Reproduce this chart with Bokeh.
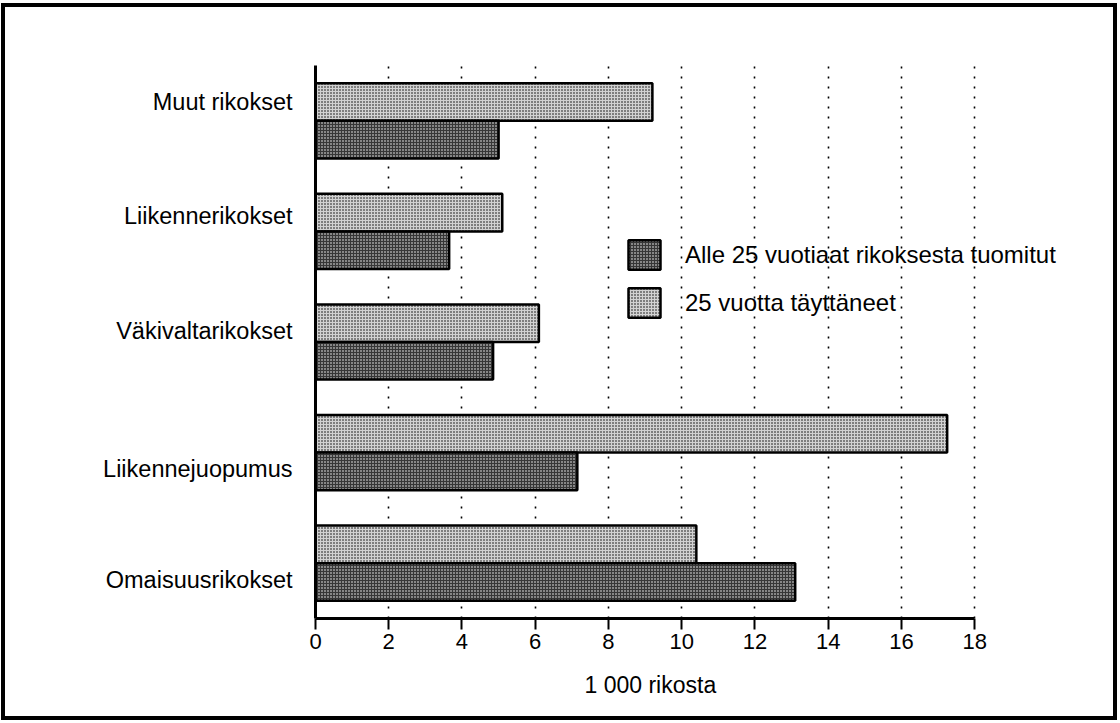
from bokeh.plotting import figure
from bokeh.models import (ColumnDataSource, Range1d, FixedTicker, Legend, LegendItem, Title)
from bokeh.transform import dodge
from bokeh.embed import file_html
from bokeh.resources import INLINE

# ---- data (top to bottom as drawn) ----
categories = ["Muut rikokset", "Liikennerikokset", "Väkivaltarikokset",
              "Liikennejuopumus", "Omaisuusrikokset"]
under25 = [5.0, 3.65, 4.85, 7.15, 13.1]      # Alle 25 vuotiaat rikoksesta tuomitut
over25 = [9.2, 5.1, 6.1, 17.25, 10.4]        # 25 vuotta täyttäneet
x_ticks = [0, 2, 4, 6, 8, 10, 12, 14, 16, 18]
series_labels = ["Alle 25 vuotiaat rikoksesta tuomitut", "25 vuotta täyttäneet"]
x_title = "1 000 rikosta"

# category label vertical shift (layout only)
label_shift = [0.17, 0.14, 0.10, -0.145, -0.155]

n = len(categories)
pos = [float(n - 1 - i) for i in range(n)]
src = ColumnDataSource(dict(y=pos, young=under25, old=over25))

FONT = "Liberation Sans"
BAR_H = 0.34

p = figure(width=1116, height=717, output_backend="svg", toolbar_location=None,
           x_range=Range1d(0, 21), y_range=Range1d(-0.5, n - 0.5),
           min_border_left=310, min_border_right=37, min_border_top=58,
           min_border_bottom=106)
p.styles = {"border": "4px solid black", "margin": "3px 0px 0px 1px"}
p.outline_line_color = None
p.background_fill_color = "white"
p.border_fill_color = "white"

# grid
p.ygrid.visible = False
p.xgrid.ticker = FixedTicker(ticks=x_ticks)
p.xgrid.grid_line_color = "black"
p.xgrid.grid_line_dash = "2 8"
p.xgrid.grid_line_width = 1.6

light = p.hbar(y=dodge("y", BAR_H / 2, range=p.y_range), right="old", left=0,
               height=BAR_H, source=src, fill_color="#d2d2d2",
               hatch_pattern="dot", hatch_color="black", hatch_scale=3,
               hatch_weight=1.4, line_color="black", line_width=2.5)
dark = p.hbar(y=dodge("y", -BAR_H / 2, range=p.y_range), right="young", left=0,
              height=BAR_H, source=src, fill_color="#363636",
              hatch_pattern="dot", hatch_color="white", hatch_scale=3,
              hatch_weight=1.2, line_color="black", line_width=2.5)

# x axis
xa = p.xaxis[0]
xa.ticker = FixedTicker(ticks=x_ticks)
xa.bounds = (0, 18)
xa.axis_line_width = 3
xa.major_tick_line_width = 2
xa.major_tick_in = 0
xa.major_tick_out = 11
xa.minor_tick_line_color = None
xa.major_label_text_font = FONT
xa.major_label_text_font_size = "22px"
xa.major_label_text_color = "black"
xa.major_label_standoff = 4

# x axis title (positioned under the tick labels)
title_below = Title(text=x_title, align="left", offset=269, vertical_align="bottom",
                    standoff=37, text_font=FONT, text_font_size="23px",
                    text_font_style="normal", text_color="black")
p.add_layout(title_below, "below")

# y axis with category labels
ya = p.yaxis[0]
ticks = [pos[i] + label_shift[i] for i in range(n)]
ya.ticker = FixedTicker(ticks=ticks)
ya.major_label_overrides = {ticks[i]: categories[i] for i in range(n)}
ya.axis_line_width = 3
ya.major_tick_line_color = None
ya.minor_tick_line_color = None
ya.major_label_standoff = 17
ya.major_label_text_font = FONT
ya.major_label_text_font_size = "23.5px"
ya.major_label_text_color = "black"

legend = Legend(items=[LegendItem(label=series_labels[0], renderers=[dark]),
                       LegendItem(label=series_labels[1], renderers=[light])],
                location=(309, 297), orientation="vertical")
legend.background_fill_alpha = 0
legend.border_line_color = None
legend.padding = 0
legend.margin = 0
legend.glyph_width = 40
legend.glyph_height = 37
legend.label_height = 37
legend.spacing = 11
legend.label_standoff = 21
legend.label_text_font = FONT
legend.label_text_font_size = "24px"
legend.label_text_color = "black"
p.add_layout(legend, "center")

open("out.html", "w").write(file_html(p, INLINE))
